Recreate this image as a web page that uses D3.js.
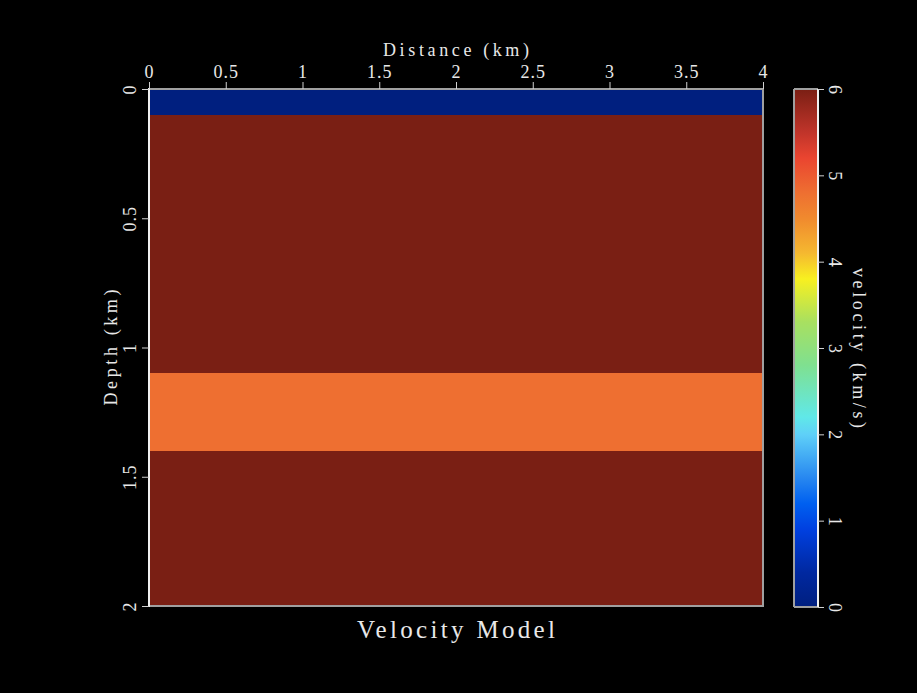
<!DOCTYPE html>
<html><head><meta charset="utf-8">
<script src="https://cdn.jsdelivr.net/npm/d3@7"></script>
<style>html,body{margin:0;padding:0;background:#000;}svg{display:block;}</style>
</head><body>
<script>
// Data
const layerTops = [0, 0.1, 1.1, 1.4];
const layerBottoms = [0.1, 1.1, 1.4, 2.0];
const layerVelocity = [0, 6, 4.8, 6];
const xTicks = [0, 0.5, 1, 1.5, 2, 2.5, 3, 3.5, 4];
const yTicks = [0, 0.5, 1, 1.5, 2];
const cbTicks = [0, 1, 2, 3, 4, 5, 6];
const cbStops = [0, 0.4, 0.9, 1.2, 1.5, 2.0, 2.2, 2.8, 3.3, 3.8, 4.1, 4.5, 4.8, 5.2, 5.5, 6];
const cbColors = ["#001f7f", "#0028a0", "#0040e0", "#0060f0", "#2888f0", "#5fd0f8", "#60e8e8", "#7fe090", "#a8e060", "#f8f020", "#f5b830", "#f08a2e", "#ee6f31", "#ea4530", "#c0342a", "#7a1f14"];

const W = 917, H = 693;
const font = "'Liberation Serif', 'DejaVu Serif', serif";
const svg = d3.select("body").append("svg").attr("width", W).attr("height", H)
  .style("background", "#000");
svg.append("rect").attr("width", W).attr("height", H).attr("fill", "#000");

const x = d3.scaleLinear().domain([0, 4]).range([149, 763]);
const y = d3.scaleLinear().domain([0, 2]).range([89, 606]);
const color = d3.scaleLinear().domain(cbStops).range(cbColors);

// layers
svg.selectAll("rect.layer").data(layerTops).enter().append("rect")
  .attr("class", "layer")
  .attr("x", x(0)).attr("width", x(4) - x(0))
  .attr("y", d => y(d))
  .attr("height", (d, i) => y(layerBottoms[i]) - y(d))
  .attr("fill", (d, i) => color(layerVelocity[i]))
  .attr("shape-rendering", "crispEdges");

// frame
const g = svg.append("g").attr("shape-rendering", "crispEdges");
g.append("line").attr("x1", x(0)).attr("x2", x(4)).attr("y1", y(0)).attr("y2", y(0)).attr("stroke", "#a0a0a0").attr("stroke-width", 2);
g.append("line").attr("x1", x(0)).attr("x2", x(4)).attr("y1", y(2)).attr("y2", y(2)).attr("stroke", "#a0a0a0").attr("stroke-width", 2);
g.append("line").attr("x1", x(4)).attr("x2", x(4)).attr("y1", y(0)-1).attr("y2", y(2)+1).attr("stroke", "#a0a0a0").attr("stroke-width", 2);
g.append("line").attr("x1", x(0)).attr("x2", x(0)).attr("y1", y(0)-1).attr("y2", y(2)+1).attr("stroke", "#f0f0f0").attr("stroke-width", 2);

// top axis
const xAxis = d3.axisTop(x).tickValues(xTicks).tickSize(7).tickPadding(4).tickFormat(d3.format("~g"));
const gx = svg.append("g").attr("transform", `translate(0,${y(0)})`).call(xAxis);
gx.select(".domain").remove();
gx.selectAll(".tick line").attr("stroke", "#d0d0d0").attr("stroke-width", 1);
gx.selectAll(".tick text").attr("fill", "#e8e8e8").style("font-family", font).style("font-size", "18px")
  .style("letter-spacing", "1px");

// left axis (labels rotated)
const yAxis = d3.axisLeft(y).tickValues(yTicks).tickSize(7).tickPadding(0).tickFormat(d3.format("~g"));
const gy = svg.append("g").attr("transform", `translate(${x(0)},0)`).call(yAxis);
gy.select(".domain").remove();
gy.selectAll(".tick line").attr("stroke", "#d0d0d0").attr("stroke-width", 1);
gy.selectAll(".tick text").attr("fill", "#e8e8e8").style("font-family", font).style("font-size", "18px")
  .style("letter-spacing", "1px")
  .attr("x", null).attr("dy", null)
  .attr("text-anchor", "middle")
  .attr("transform", "translate(-13,0) rotate(-90)");

// axis titles
svg.append("text").attr("x", (x(0)+x(4))/2).attr("y", 56).attr("text-anchor", "middle")
  .attr("fill", "#e8e8e8").style("font-family", font).style("font-size", "18px")
  .attr("textLength", 146).text("Distance (km)");
svg.append("text").attr("transform", `translate(117,${(y(0)+y(2))/2}) rotate(-90)`).attr("text-anchor", "middle")
  .attr("fill", "#e8e8e8").style("font-family", font).style("font-size", "18px")
  .attr("textLength", 116).text("Depth (km)");
svg.append("text").attr("x", (x(0)+x(4))/2).attr("y", 638).attr("text-anchor", "middle")
  .attr("fill", "#e8e8e8").style("font-family", font).style("font-size", "25px")
  .attr("textLength", 198).attr("lengthAdjust", "spacing").text("Velocity Model");

// colorbar
const cbX = 794, cbW = 24;
const cy = d3.scaleLinear().domain([0, 6]).range([607, 89]);
const defs = svg.append("defs");
const grad = defs.append("linearGradient").attr("id", "cbgrad").attr("x1", 0).attr("y1", 1).attr("x2", 0).attr("y2", 0);
grad.selectAll("stop").data(cbStops).enter().append("stop")
  .attr("offset", d => d / 6).attr("stop-color", (d, i) => cbColors[i]);
svg.append("rect").attr("x", cbX).attr("y", cy(6)).attr("width", cbW).attr("height", cy(0) - cy(6)).attr("fill", "url(#cbgrad)");
const cb = svg.append("g").attr("shape-rendering", "crispEdges");
cb.append("line").attr("x1", cbX).attr("x2", cbX+cbW).attr("y1", cy(6)).attr("y2", cy(6)).attr("stroke", "#a0a0a0").attr("stroke-width", 2);
cb.append("line").attr("x1", cbX).attr("x2", cbX+cbW).attr("y1", cy(0)).attr("y2", cy(0)).attr("stroke", "#a0a0a0").attr("stroke-width", 2);
cb.append("line").attr("x1", cbX).attr("x2", cbX).attr("y1", cy(6)).attr("y2", cy(0)).attr("stroke", "#a0a0a0").attr("stroke-width", 2);
cb.append("line").attr("x1", cbX+cbW).attr("x2", cbX+cbW).attr("y1", cy(6)).attr("y2", cy(0)).attr("stroke", "#f0f0f0").attr("stroke-width", 2);

const cAxis = d3.axisRight(cy).tickValues(cbTicks).tickSize(6).tickFormat(d3.format("~g"));
const gc = svg.append("g").attr("transform", `translate(${cbX+cbW},0)`).call(cAxis);
gc.select(".domain").remove();
gc.selectAll(".tick line").attr("stroke", "#d0d0d0").attr("stroke-width", 1);
gc.selectAll(".tick text").attr("fill", "#e8e8e8").style("font-family", font).style("font-size", "18px")
  .attr("x", null).attr("dy", null)
  .attr("text-anchor", "middle")
  .attr("transform", "translate(11,0) rotate(90)");
svg.append("text").attr("transform", `translate(853,${(cy(0)+cy(6))/2}) rotate(90)`).attr("text-anchor", "middle")
  .attr("fill", "#e8e8e8").style("font-family", font).style("font-size", "18px")
  .attr("textLength", 160).text("velocity (km/s)");
</script>
</body></html>
